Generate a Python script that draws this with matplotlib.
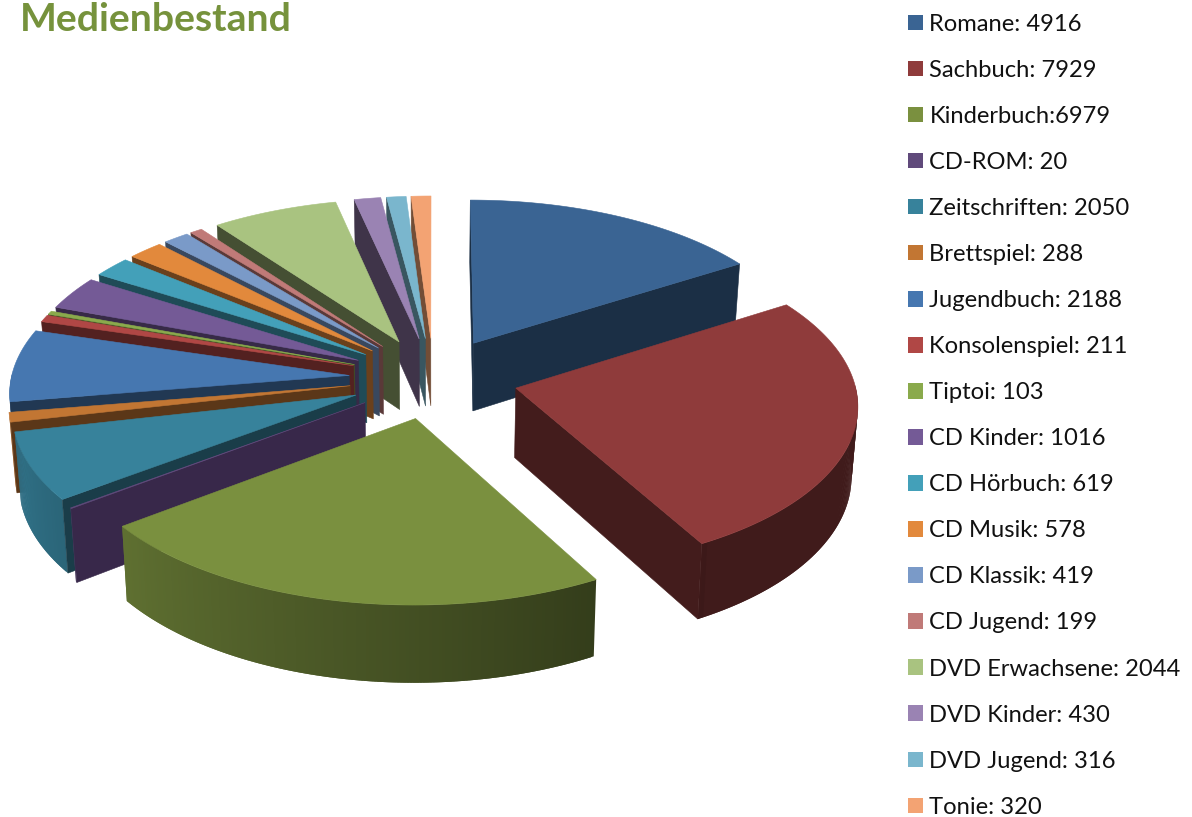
import numpy as np
import matplotlib
matplotlib.use("Agg")
import matplotlib.pyplot as plt
from matplotlib.patches import Polygon, Patch
from matplotlib.colors import to_rgb

plt.rcParams['font.family'] = ['Lato', 'DejaVu Sans']

categories = ["Romane", "Sachbuch", "Kinderbuch", "CD-ROM", "Zeitschriften", "Brettspiel",
              "Jugendbuch", "Konsolenspiel", "Tiptoi", "CD Kinder", "CD Hörbuch", "CD Musik",
              "CD Klassik", "CD Jugend", "DVD Erwachsene", "DVD Kinder", "DVD Jugend", "Tonie"]
values = [4916, 7929, 6979, 20, 2050, 288, 2188, 211, 103, 1016, 619, 578, 419, 199, 2044, 430, 316, 320]
legend_labels = ["Romane: 4916", "Sachbuch: 7929", "Kinderbuch:6979", "CD-ROM: 20", "Zeitschriften: 2050",
                 "Brettspiel: 288", "Jugendbuch: 2188", "Konsolenspiel: 211", "Tiptoi: 103", "CD Kinder: 1016",
                 "CD Hörbuch: 619", "CD Musik: 578", "CD Klassik: 419", "CD Jugend: 199",
                 "DVD Erwachsene: 2044", "DVD Kinder: 430", "DVD Jugend: 316", "Tonie: 320"]
colors = ["#3A6493", "#8F3B3B", "#7A903F", "#604A7B", "#37829B", "#C27633", "#4677B0", "#B04745", "#8AAA4C",
          "#745A96", "#43A0B9", "#E2893C", "#7A9AC8", "#C07A78", "#A9C380", "#9A83B3", "#7AB6CD", "#F3A373"]
side_overrides = {"#604A7B": "#38284A", "#A9C380": "#454F33", "#9A83B3": "#3F3449"}

# projection parameters of the 3D pie
CX, CY, SX, SY, PERSP, THICK, TAPER, EXPLODE = 433.5, 378, 338, 162, 0.09, 69, 0.015, 0.25


def project(x, y, bottom=False):
    scale = 1 / (1 + PERSP * y)
    sx = SX * x * scale
    sy = CY - SY * y * scale
    if bottom:
        sx *= 1 - TAPER
        sy += THICK * scale
    return np.column_stack([CX + sx, sy])


def shade(color, f):
    return tuple(c * f for c in to_rgb(color))


def wall_factor(deg):
    deg = deg % 360
    if deg <= 150:
        return 0.45
    if deg >= 250:
        return 0.85
    return 0.42 + (deg - 150) / 100 * 0.43


fig = plt.figure(figsize=(11.92, 8.17), dpi=100)
ax = fig.add_axes([0, 0, 1, 1])
ax.set_xlim(0, 1192)
ax.set_ylim(817, 0)
ax.axis("off")

total = sum(values)
edges = np.cumsum([0] + values) / total * 360
slices = []
for i, col in enumerate(colors):
    a0, a1 = edges[i], edges[i + 1]
    slices.append((np.cos(np.radians((a0 + a1) / 2)), a0, a1, col))

for _, a0, a1, col in sorted(slices, key=lambda s: -s[0]):
    mid = np.radians((a0 + a1) / 2)
    ox, oy = EXPLODE * np.sin(mid), EXPLODE * np.cos(mid)
    n = max(3, int((a1 - a0) * 2))
    th = np.linspace(a0, a1, n)
    rad = np.radians(th)
    x = ox + np.sin(rad)
    y = oy + np.cos(rad)
    top_arc = project(x, y)
    bot_arc = project(x, y, True)
    apex_t = project(np.array([ox]), np.array([oy]))
    apex_b = project(np.array([ox]), np.array([oy]), True)

    # outer wall: only the part that faces the viewer; overlapping strips avoid seams
    front = np.where(np.cos(rad) < 0.02)[0]
    if len(front) > 1:
        j0, j1 = front[0], front[-1]
        for k in range(j0, j1):
            fc = shade(col, wall_factor((th[k] + th[k + 1]) / 2))
            e = min(k + 3, j1 + 1)
            q = np.vstack([top_arc[k:e], bot_arc[k:e][::-1]])
            ax.add_patch(Polygon(q, closed=True, fc=fc, ec="none"))

    # radial cut faces: only those turned towards the viewer
    side = side_overrides.get(col, shade(col, 0.47))
    if np.sin(rad[0]) < 1e-6:
        q = np.vstack([apex_t, top_arc[[0]], bot_arc[[0]], apex_b])
        ax.add_patch(Polygon(q, closed=True, fc=side, ec=side, lw=0.4))
    if np.sin(rad[-1]) > 1e-6:
        q = np.vstack([apex_t, top_arc[[-1]], bot_arc[[-1]], apex_b])
        ax.add_patch(Polygon(q, closed=True, fc=side, ec=side, lw=0.4))
    ax.add_patch(Polygon(np.vstack([apex_t, top_arc]), closed=True, fc=col, ec=col, lw=0.4))

ax.text(20, 19, "Medienbestand", color="#76923C", fontsize=28.2, fontweight="bold", va="center", ha="left")

handles = [Patch(fc=c, ec="none") for c in colors]
ax.legend(handles, legend_labels, loc="upper left", bbox_to_anchor=(903.5 / 1192, 1 - 9 / 817),
          bbox_transform=fig.transFigure, frameon=False, fontsize=17.1, handlelength=0.63, handleheight=0.63,
          handletextpad=0.26, labelspacing=1.055, borderpad=0.2, borderaxespad=0, labelcolor="#111111")

fig.savefig("out.png", dpi=100)
